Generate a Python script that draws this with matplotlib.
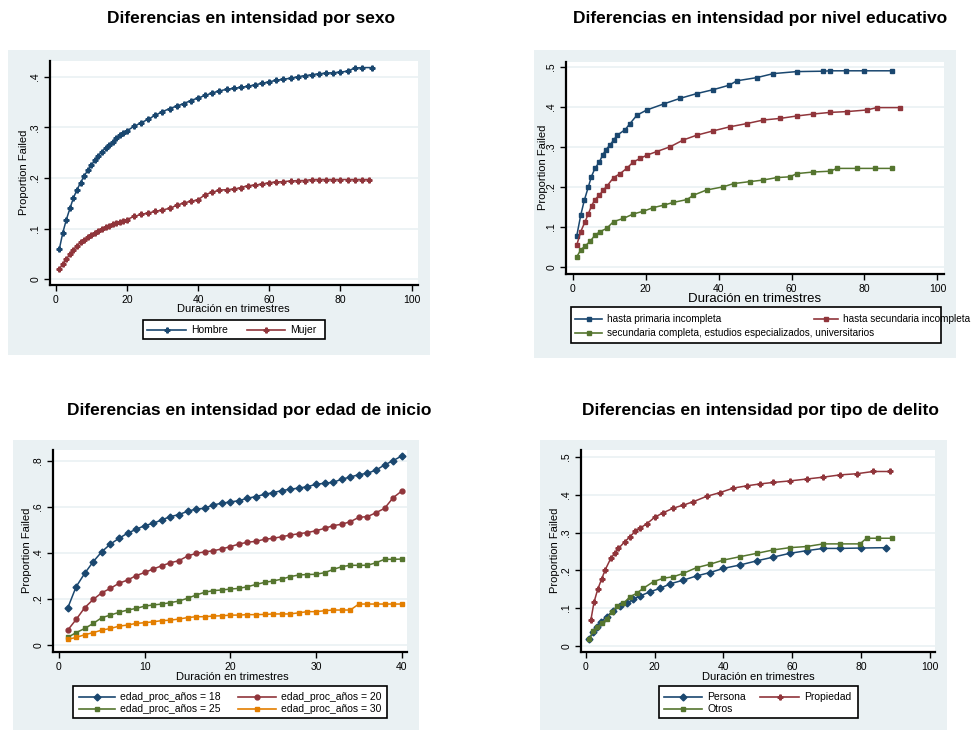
import matplotlib
matplotlib.use("Agg")
import matplotlib.pyplot as plt
from matplotlib.patches import Rectangle
from matplotlib.lines import Line2D

plt.rcParams['font.family'] = ['Liberation Sans', 'DejaVu Sans']

NAVY = '#1A476F'
MAROON = '#90353B'
GREEN = '#55752F'
ORANGE = '#E37E00'
BG = '#EAF1F3'

W, H = 976, 730

# --- por sexo ---
t_hombre = [1, 2, 3, 4, 5, 6, 7, 8, 9, 10, 11, 12, 13, 14, 15, 16, 17, 18, 19, 20,
            22, 24, 26, 28, 30, 32, 34, 36, 38, 40, 42, 44, 46, 48, 50, 52, 54, 56, 58, 60,
            62, 64, 66, 68, 70, 72, 74, 76, 78, 80, 82, 84, 86, 89]
hombre = [.059, .092, .118, .140, .161, .177, .191, .204, .215, .225, .235, .244, .252, .259,
          .265, .272, .278, .284, .289, .293,
          .302, .309, .316, .324, .331, .337, .342, .347, .353, .358, .363, .368, .372, .375,
          .377, .379, .381, .384, .387, .390, .393, .395, .397, .400, .402, .404, .406, .407,
          .408, .409, .411, .417, .418, .418]
t_mujer = [1, 2, 3, 4, 5, 6, 7, 8, 9, 10, 11, 12, 13, 14, 15, 16, 17, 18, 19, 20,
           22, 24, 26, 28, 30, 32, 34, 36, 38, 40, 42, 44, 46, 48, 50, 52, 54, 56, 58, 60,
           62, 64, 66, 68, 70, 72, 74, 76, 78, 80, 82, 84, 86, 88]
mujer = [.020, .030, .040, .049, .058, .066, .073, .078, .083, .087, .091, .095, .099, .103,
         .106, .110, .112, .114, .115, .118,
         .124, .128, .131, .134, .137, .140, .146, .151, .154, .157, .167, .172, .176, .177,
         .178, .181, .185, .186, .188, .191, .192, .193, .194, .195, .195, .197, .197, .197,
         .197, .197, .197, .197, .197, .197]

# --- por nivel educativo ---
t_prim = [1.1, 2.2, 3.2, 4.3, 5.1, 6.1, 7.3, 8.2, 9.1, 10.2, 11.3, 12.2, 14.4, 15.7, 17.6,
          20.3, 24.9, 29.4, 34, 38.6, 42.9, 45, 50.5, 55, 61.4, 68.7, 70.6, 75, 80, 87.5]
prim = [.077, .129, .167, .200, .225, .246, .262, .279, .293, .304, .318, .329, .343, .358,
        .379, .392, .407, .421, .433, .443, .454, .465, .473, .483, .488, .489, .490, .490,
        .490, .490]
t_sec = [1.1, 2.2, 3.4, 4.3, 5.2, 6.1, 7.3, 8.4, 9.5, 11.2, 13, 14.8, 16.6, 18.5, 20.3, 23,
         26.7, 30.3, 34, 38.6, 43.1, 47.7, 52.3, 56.9, 61.4, 66, 70.6, 75.1, 80.6, 83.4, 89.8]
sec = [.054, .088, .113, .133, .153, .168, .179, .192, .203, .223, .233, .246, .262, .271,
       .279, .288, .300, .317, .329, .340, .350, .358, .367, .371, .377, .382, .386, .388,
       .392, .398, .398]
t_univ = [1.1, 2.2, 3.4, 4.8, 6.1, 7.5, 9.3, 11.2, 13.9, 16.6, 19.4, 22.1, 24.9, 27.6, 31.3,
          33.1, 36.7, 41.3, 44.1, 48.6, 52.3, 55.9, 59.6, 61.4, 66, 70.6, 72.4, 78, 83, 87.5]
univ = [.025, .042, .052, .064, .079, .088, .096, .113, .121, .132, .139, .148, .154, .161,
        .168, .179, .192, .200, .208, .213, .217, .223, .225, .233, .237, .239, .246, .246,
        .246, .246]

# --- por edad de inicio ---
t_edad = list(range(1, 41))
edad18 = [.159, .253, .311, .362, .405, .438, .463, .485, .502, .518, .528, .543, .557, .566,
          .580, .590, .593, .608, .615, .621, .626, .637, .644, .654, .661, .670, .676, .681,
          .687, .697, .702, .706, .719, .729, .739, .745, .759, .781, .800, .820]
edad20 = [.064, .111, .162, .198, .227, .246, .268, .282, .301, .315, .330, .344, .357, .366,
          .386, .398, .404, .409, .417, .427, .438, .446, .450, .459, .463, .470, .477, .483,
          .488, .496, .506, .518, .524, .535, .554, .557, .574, .593, .639, .668]
edad25 = [.033, .054, .072, .094, .119, .130, .142, .152, .159, .169, .174, .178, .184, .191,
          .203, .217, .229, .236, .239, .243, .246, .253, .263, .272, .278, .286, .297, .304,
          .306, .307, .314, .328, .340, .346, .346, .346, .357, .372, .372, .373]
edad30 = [.025, .033, .045, .054, .065, .072, .082, .087, .094, .097, .101, .106, .108, .113,
          .119, .123, .123, .126, .127, .130, .130, .132, .132, .133, .135, .135, .135, .140,
          .145, .145, .149, .152, .152, .152, .178, .178, .178, .178, .178, .178]

# --- por tipo de delito ---
t_persona = [1.1, 2.2, 3.2, 4.5, 6.1, 8, 10, 11.9, 13.8, 15.8, 18.7, 21.6, 24.5, 28.4, 32.2,
             36.1, 40, 44.8, 49.7, 54.5, 59.3, 64.2, 69, 73.9, 80, 87.4]
persona = [.019, .037, .050, .064, .077, .093, .104, .112, .123, .132, .143, .152, .164, .174,
           .185, .194, .205, .214, .225, .235, .245, .252, .258, .258, .259, .260]
t_propiedad = [1.5, 2.4, 3.5, 4.6, 5.6, 7.3, 8.5, 9.5, 11.4, 12.9, 14.3, 15.8, 17.7, 20.1,
               22.6, 25.5, 28.4, 31.3, 35.1, 39, 42.9, 46.8, 50.6, 54.5, 59.3, 64.2, 69,
               73.9, 78.7, 83.5, 88.4]
propiedad = [.068, .115, .150, .176, .200, .232, .245, .258, .276, .289, .303, .312, .323,
             .341, .353, .365, .373, .382, .396, .406, .418, .424, .429, .433, .437, .442,
             .447, .453, .456, .462, .462]
t_otros = [1.1, 2.2, 3.4, 4.6, 6.1, 7.6, 9, 10.9, 12.9, 14.8, 16.7, 19.7, 22.6, 25.5, 28.4,
           32.2, 36.1, 40, 44.8, 49.7, 54.5, 59.3, 64.2, 69, 74, 79.7, 81.6, 85, 88.9]
otros = [.019, .040, .050, .059, .071, .090, .104, .112, .130, .139, .152, .170, .179, .183,
         .192, .207, .216, .227, .236, .245, .254, .260, .263, .270, .270, .270, .285, .285,
         .285]


def fbox(x0, y0, x1, y1):
    # pixel box (top-left origin) -> figure fraction rect
    return [x0 / W, 1 - y1 / H, (x1 - x0) / W, (y1 - y0) / H]


def fx(x):
    return x / W


def fy(y):
    return 1 - y / H


fig = plt.figure(figsize=(W / 100, H / 100), dpi=100)
fig.patch.set_facecolor('white')


def panel(title, title_xy, bg, box, xlim, ylim, xticks, yticks, xlab_xy, ylab_xy, xlab_size=8):
    fig.patches.append(Rectangle((fx(bg[0]), fy(bg[3])), (bg[2] - bg[0]) / W,
                                 (bg[3] - bg[1]) / H, transform=fig.transFigure,
                                 facecolor=BG, edgecolor='none', zorder=-5))
    fig.text(fx(title_xy[0]), fy(title_xy[1]), title, ha='center', va='center',
             fontsize=12.5, fontweight='bold')
    ax = fig.add_axes(fbox(*box))
    ax.set_facecolor('white')
    ax.set_xlim(*xlim)
    ax.set_ylim(*ylim)
    ax.set_xticks(xticks)
    ax.set_yticks(yticks)
    ax.set_yticklabels([('%g' % v).replace('0.', '.') for v in yticks], rotation=90,
                       va='center')
    ax.tick_params(labelsize=7.5, length=4, width=1, colors='black', pad=3)
    for s in ['top', 'right']:
        ax.spines[s].set_visible(False)
    for s in ['left', 'bottom']:
        ax.spines[s].set_linewidth(1.6)
    ax.grid(axis='y', color=BG, linewidth=1.2)
    ax.set_axisbelow(True)
    fig.text(fx(xlab_xy[0]), fy(xlab_xy[1]), 'Duración en trimestres', ha='center',
             va='center', fontsize=xlab_size)
    fig.text(fx(ylab_xy[0]), fy(ylab_xy[1]), 'Proportion Failed', ha='center',
             va='center', fontsize=8, rotation=90)
    return ax


def key(box, entries, size=7.5):
    x0, y0, x1, y1 = box
    fig.patches.append(Rectangle((fx(x0), fy(y1)), (x1 - x0) / W, (y1 - y0) / H,
                                 transform=fig.transFigure, facecolor='white',
                                 edgecolor='black', linewidth=1.2, zorder=1))
    for lx0, lx1, ly, color, marker, label in entries:
        fig.lines.append(Line2D([fx(lx0), fx(lx1)], [fy(ly), fy(ly)],
                                transform=fig.transFigure, color=color, linewidth=1.2,
                                zorder=2))
        fig.lines.append(Line2D([fx((lx0 + lx1) / 2)], [fy(ly)], transform=fig.transFigure,
                                color=color, marker=marker, markersize=3.5, zorder=3))
        fig.text(fx(lx1 + 5), fy(ly), label, ha='left', va='center', fontsize=size, zorder=3)


def curve(ax, t, v, color, marker):
    ax.plot(t, v, color=color, linewidth=1.1, marker=marker, markersize=3.5,
            markeredgewidth=1.0, clip_on=False)


# Panel 1: sexo
ax1 = panel('Diferencias en intensidad por sexo', (251, 18), (8, 50, 430, 355),
            (50, 61, 418, 285), (-1.6, 101.8), (-0.0113, 0.431),
            [0, 20, 40, 60, 80, 100], [0, .1, .2, .3, .4], (233, 309), (24, 172))
curve(ax1, t_hombre, hombre, NAVY, 'P')
curve(ax1, t_mujer, mujer, MAROON, 'P')
key((143, 320, 325, 339), [
    (147, 186, 330, NAVY, 'P', 'Hombre'),
    (247, 285, 330, MAROON, 'P', 'Mujer'),
])

# Panel 2: nivel educativo
ax2 = panel('Diferencias en intensidad por nivel educativo', (760, 18), (534, 50, 956, 358),
            (566, 62, 944, 274), (-1.84, 101.8), (-0.018, 0.512),
            [0, 20, 40, 60, 80, 100], [0, .1, .2, .3, .4, .5], (755, 299), (543, 167),
            xlab_size=9.5)
curve(ax2, t_prim, prim, NAVY, 's')
curve(ax2, t_sec, sec, MAROON, 's')
curve(ax2, t_univ, univ, GREEN, 's')
key((571, 307, 941, 343), [
    (575, 602, 319, NAVY, 's', 'hasta primaria incompleta'),
    (814, 838, 319, MAROON, 's', 'hasta secundaria incompleta'),
    (575, 602, 333, GREEN, 's', 'secundaria completa, estudios especializados, universitarios'),
], size=7.2)

# Panel 3: edad de inicio
ax3 = panel('Diferencias en intensidad por edad de inicio', (249, 411), (13, 440, 419, 730),
            (53, 450, 407, 652), (-0.7, 40.62), (-0.030, 0.846),
            [0, 10, 20, 30, 40], [0, .2, .4, .6, .8], (232, 677), (27, 550))
curve(ax3, t_edad, edad18, NAVY, 'D')
curve(ax3, t_edad, edad20, MAROON, 'o')
curve(ax3, t_edad, edad25, GREEN, 's')
curve(ax3, t_edad, edad30, ORANGE, 's')
key((73, 686, 387, 718), [
    (79, 115, 697, NAVY, 'D', 'edad_proc_años = 18'),
    (238, 276, 697, MAROON, 'o', 'edad_proc_años = 20'),
    (79, 115, 709, GREEN, 's', 'edad_proc_años = 25'),
    (238, 276, 709, ORANGE, 's', 'edad_proc_años = 30'),
])

# Panel 4: tipo de delito
ax4 = panel('Diferencias en intensidad por tipo de delito', (760, 411), (540, 440, 947, 730),
            (581, 450, 935, 652), (-1.37, 101.5), (-0.0167, 0.519),
            [0, 20, 40, 60, 80, 100], [0, .1, .2, .3, .4, .5], (758, 677), (555, 550))
curve(ax4, t_persona, persona, NAVY, 'D')
curve(ax4, t_propiedad, propiedad, MAROON, 'P')
curve(ax4, t_otros, otros, GREEN, 's')
key((659, 686, 858, 718), [
    (664, 702, 697, NAVY, 'D', 'Persona'),
    (760, 799, 697, MAROON, 'P', 'Propiedad'),
    (664, 702, 709, GREEN, 's', 'Otros'),
])

fig.savefig('out.png', dpi=100)
